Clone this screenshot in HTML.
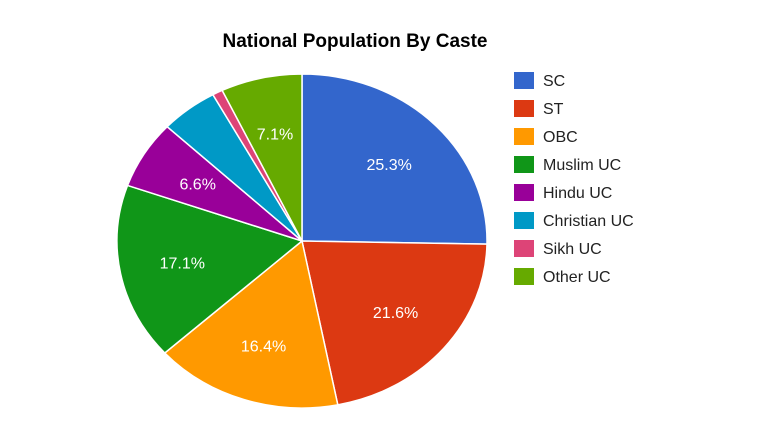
<!DOCTYPE html>
<html><head><meta charset="utf-8"><style>
body{margin:0;background:#fff;width:770px;height:436px;overflow:hidden}
svg{display:block}
</style></head><body>
<svg id="chart" width="770" height="436" xmlns="http://www.w3.org/2000/svg">
<text x="355" y="47" text-anchor="middle" font-family="Liberation Sans, sans-serif" font-weight="bold" font-size="19" fill="#000">National Population By Caste</text>
<g id="slices"></g><g id="labels"></g><g id="legend"></g>
</svg>
<script>
const categories=["SC","ST","OBC","Muslim UC","Hindu UC","Christian UC","Sikh UC","Other UC"];
const values=[25.3,21.6,16.4,17.1,6.6,5.0,0.9,7.1];
const colors=["#3366cc","#dc3912","#ff9900","#109618","#990099","#0099c6","#dd4477","#66aa00"];
const NS="http://www.w3.org/2000/svg";
const cx=302,cy=241,rx=185,ry=167;
const total=values.reduce((a,b)=>a+b,0);
const sG=document.getElementById('slices'),lG=document.getElementById('labels'),gG=document.getElementById('legend');
function pt(a,f){return [cx+rx*f*Math.sin(a),cy-ry*f*Math.cos(a)];}
let acc=0;
values.forEach((v,i)=>{
  const a0=acc/total*2*Math.PI;acc+=v;const a1=acc/total*2*Math.PI;
  const p0=pt(a0,1),p1=pt(a1,1);
  const large=(a1-a0)>Math.PI?1:0;
  const p=document.createElementNS(NS,'path');
  p.setAttribute('d',`M${cx},${cy}L${p0[0]},${p0[1]}A${rx},${ry} 0 ${large} 1 ${p1[0]},${p1[1]}Z`);
  p.setAttribute('fill',colors[i]);p.setAttribute('stroke','#fff');p.setAttribute('stroke-width','1.5');
  
  
  sG.appendChild(p);
  const pct=v/total*100;
  if(pct>=6){
    const m=pt((a0+a1)/2,0.66);
    const t=document.createElementNS(NS,'text');
    t.setAttribute('x',m[0]);t.setAttribute('y',m[1]+6);t.setAttribute('text-anchor','middle');
    t.setAttribute('font-family','Liberation Sans, sans-serif');t.setAttribute('font-size','16');t.setAttribute('fill','#fff');
    t.textContent=pct.toFixed(1)+'%';
    
    
    lG.appendChild(t);
  }
  const y=80+i*28;
  const r=document.createElementNS(NS,'rect');
  r.setAttribute('x',514);r.setAttribute('y',y-8);r.setAttribute('width',20);r.setAttribute('height',17);r.setAttribute('fill',colors[i]);
  
  
  gG.appendChild(r);
  const t2=document.createElementNS(NS,'text');
  t2.setAttribute('x',543);t2.setAttribute('y',y+6);t2.setAttribute('font-family','Liberation Sans, sans-serif');t2.setAttribute('font-size','16');t2.setAttribute('fill','#222');
  t2.textContent=categories[i];
  
  
  gG.appendChild(t2);
});
</script>
</body></html>
